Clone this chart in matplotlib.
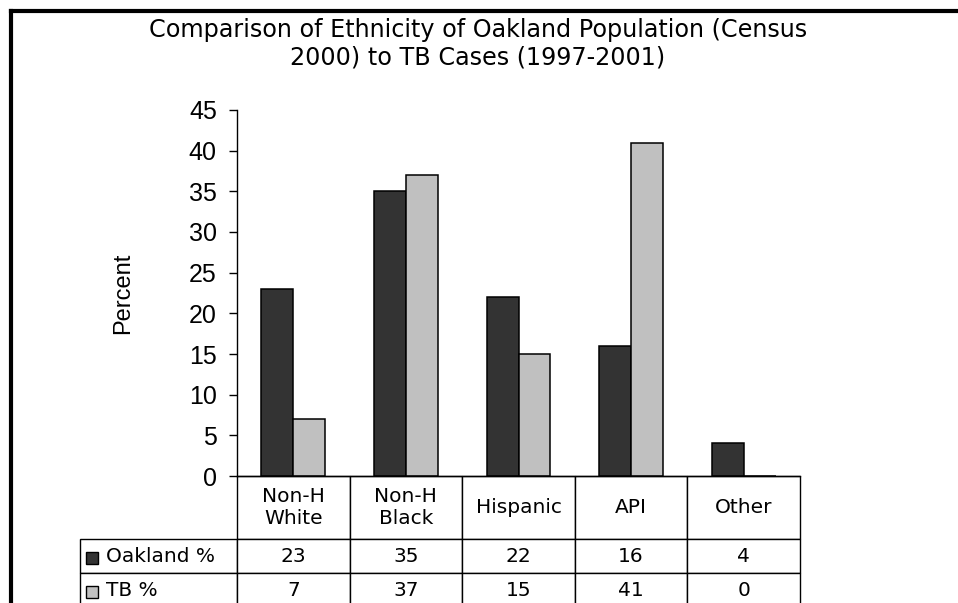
import numpy as np
import matplotlib.pyplot as plt
from matplotlib.patches import Rectangle
from matplotlib.lines import Line2D

groups = ['Non-H\nWhite', 'Non-H\nBlack', 'Hispanic', 'API', 'Other']
oakland_pct = [23, 35, 22, 16, 4]
tb_pct = [7, 37, 15, 41, 0]
series_names = ['Oakland %', 'TB %']
series_colors = ['#333333', '#c0c0c0']
yticks = [0, 5, 10, 15, 20, 25, 30, 35, 40, 45]
title = 'Comparison of Ethnicity of Oakland Population (Census\n2000) to TB Cases (1997-2001)'

plt.rcParams['font.family'] = ['Liberation Sans', 'DejaVu Sans']

W, H = 958, 603
fig = plt.figure(figsize=(W / 100, H / 100), dpi=100)

# plot area in pixels
left, right, top, bottom = 237, 800, 110, 476
aw, ah = right - left, bottom - top
ax = fig.add_axes([left / W, (H - bottom) / H, aw / W, ah / H])

x = np.arange(len(groups))
bw = 0.284
ax.bar(x - bw / 2, oakland_pct, bw, color=series_colors[0], edgecolor='black', linewidth=1.1)
ax.bar(x + bw / 2, tb_pct, bw, color=series_colors[1], edgecolor='black', linewidth=1.1)

ax.set_xlim(-0.5, len(groups) - 0.5)
ax.set_ylim(0, 45)
ax.set_yticks(yticks)
ax.set_xticks([])
ax.tick_params(axis='y', length=6, width=1, pad=8.5, labelsize=18, direction='out')
ax.spines['top'].set_visible(False)
ax.spines['right'].set_visible(False)
ax.spines['left'].set_linewidth(1)
ax.spines['bottom'].set_linewidth(1)

ax.set_ylabel('Percent', fontsize=17)
ax.yaxis.set_label_coords((134 - left) / aw, 0.5)

# data table under the bars
tab_left = 80
hdr_h, row_h = 63, 34
label_w = left - tab_left
col_w = aw / len(groups)
cell_text = [[''] + groups]
for name, vals in zip(series_names, [oakland_pct, tb_pct]):
    cell_text.append([name] + [str(v) for v in vals])

tab_h = hdr_h + 2 * row_h
tbl = ax.table(cellText=cell_text, cellLoc='center',
               bbox=[(tab_left - left) / aw, -tab_h / ah, (right - tab_left) / aw, tab_h / ah])
tbl.auto_set_font_size(False)
tbl.set_fontsize(14.5)
for (r, c), cell in tbl.get_celld().items():
    cell.set_height(hdr_h if r == 0 else row_h)
    cell.set_width(label_w if c == 0 else col_w)
    cell.set_edgecolor('black')
    cell.set_linewidth(1)
    cell.get_text().set_fontfamily('DejaVu Sans')
    if r == 0 and c == 0:
        cell.visible_edges = ''
    if c == 0 and r > 0:
        cell._loc = 'left'
        cell.PAD = 26 / label_w
        cell.get_text().set_ha('left')

# legend keys in the row label cells
for i, col in enumerate(series_colors):
    yc = -(hdr_h + row_h * i + row_h / 2 + 2) / ah
    ax.add_patch(Rectangle(((86 - left) / aw, yc - 6 / ah), 12 / aw, 12 / ah,
                           transform=ax.transAxes, facecolor=col, edgecolor='black',
                           linewidth=1, clip_on=False))

fig.text(478 / W, 1 - 44 / H, title, ha='center', va='center', fontsize=17.2,
         fontfamily='DejaVu Sans', linespacing=1.2)

# outer frame
fig.add_artist(Line2D([11 / W, 11 / W], [1 - 11 / H, -0.1], color='black', linewidth=3))
fig.add_artist(Line2D([11 / W, 1.1], [1 - 11 / H, 1 - 11 / H], color='black', linewidth=3))

fig.savefig('out.png', dpi=100)
